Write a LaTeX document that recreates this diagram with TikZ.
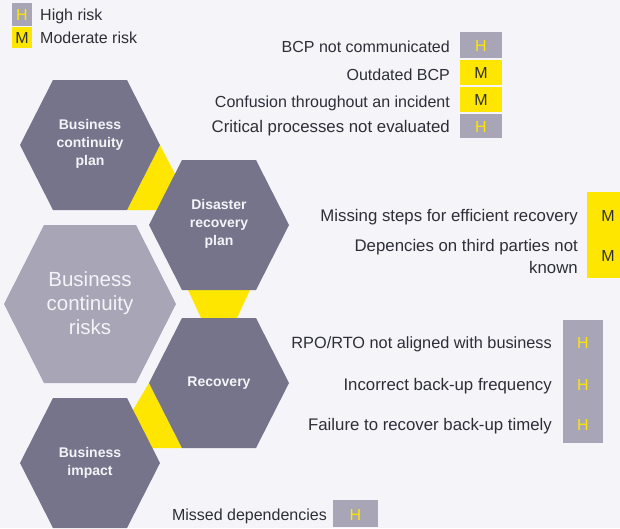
\documentclass[tikz,border=0pt]{standalone}
\usepackage{fontspec}
\setmainfont{Liberation Sans}

\definecolor{bgcol}{HTML}{F5F5F9}
\definecolor{hexdark}{HTML}{76748B}
\definecolor{hexlight}{HTML}{A7A5B6}
\definecolor{eyyellow}{HTML}{FFE600}
\definecolor{txtdark}{HTML}{2E2E38}
\definecolor{hexwhite}{HTML}{F4F4F8}

\tikzset{
	risktext/.style={anchor=base east, inner sep=0pt, text=txtdark, font=\fontsize{16}{22}\selectfont},
	widetext/.style={risktext, font=\fontsize{16.8}{22}\selectfont},
	hextext/.style={align=center, inner sep=0pt, text=hexwhite, font=\bfseries\fontsize{14}{18}\selectfont},
	hletter/.style={anchor=base, inner sep=0pt, text=eyyellow, font=\fontsize{16}{19}\selectfont},
	mletter/.style={anchor=base, inner sep=0pt, text=txtdark, font=\fontsize{16}{19}\selectfont},
}
\def\hexpath{(-70,0) -- (-37,-65) -- (37,-65) -- (70,0) -- (37,65) -- (-37,65) -- cycle}

\begin{document}
\begin{tikzpicture}[x=1pt,y=-1pt]
	\fill[bgcol] (0,0) rectangle (620,528);
	\useasboundingbox (0,0) rectangle (620,528);

	% legend
	\fill[hexlight] (12,3) rectangle (32,26);
	\fill[eyyellow] (12,27) rectangle (32,48);
	\node[hletter] (legH) at (22,20.5) {H};
	\node[mletter] (legM) at (22,43) {M};
	\node[risktext, anchor=base west] (legHtxt) at (40,20.5) {High risk};
	\node[risktext, anchor=base west] (legMtxt) at (40,43) {Moderate risk};

	% yellow
	\fill[eyyellow] (160,145) -- (176,176) -- (157,210) -- (127,210) -- cycle;
	\fill[eyyellow] (188,290) -- (250,290) -- (237,318) -- (201,318) -- cycle;
	\fill[eyyellow] (149,383) -- (133,410) -- (152,448) -- (182,448) -- cycle;

	% hexagons
	\fill[hexdark, shift={(90,145)}] \hexpath;
	\fill[hexdark, shift={(219,225)}] \hexpath;
	\fill[hexdark, shift={(219,383)}] \hexpath;
	\fill[hexdark, shift={(90,463)}] \hexpath;
	\fill[hexlight] (4,304) -- (44,225) -- (136,225) -- (176,304) -- (136,383) -- (44,383) -- cycle;

	% label
	\node[hextext] (bcp) at (90,144) {Business\\continuity\\plan};
	\node[hextext] (drp) at (219,224) {Disaster\\recovery\\plan};
	\node[hextext] (rec) at (219,383) {Recovery};
	\node[hextext] (bia) at (90,463) {Business\\impact};
	\node[hextext, font=\fontsize{20.5}{24}\selectfont] (bcr) at (90,303) {Business\\continuity\\risks};

	% BCP
	\node[risktext] (bcp1) at (450,52) {BCP not communicated};
	\node[risktext] (bcp2) at (450,80) {Outdated BCP};
	\node[risktext] (bcp3) at (450,107.5) {Confusion throughout an incident};
	\node[widetext] (bcp4) at (450,132) {Critical processes not evaluated};
	\fill[hexlight] (460,32) rectangle (502,58);
	\fill[eyyellow] (460,60) rectangle (502,85);
	\fill[eyyellow] (460,87) rectangle (502,112);
	\fill[hexlight] (460,114) rectangle (502,138);
	\node[hletter] (bcp1r) at (481,51) {H};
	\node[mletter] (bcp2r) at (481,78.5) {M};
	\node[mletter] (bcp3r) at (481,105.5) {M};
	\node[hletter] (bcp4r) at (481,132) {H};

	% DRP
	\node[widetext] (drp1) at (578,221.5) {Missing steps for efficient recovery};
	\node[widetext, anchor=east, align=right] (drp2) at (578,256.5) {Depencies on third parties not\\known};
	\fill[eyyellow] (587,192) rectangle (620,278);
	\node[mletter] (drp1r) at (608,221.5) {M};
	\node[mletter] (drp2r) at (608,261) {M};

	% recovery
	\node[risktext, font=\fontsize{16.3}{22}\selectfont] (rec1) at (552,348.5) {RPO/RTO not aligned with business};
	\node[widetext] (rec2) at (552,390) {Incorrect back-up frequency};
	\node[widetext] (rec3) at (552,430.5) {Failure to recover back-up timely};
	\fill[hexlight] (563,320) rectangle (603,443);
	\node[hletter] (rec1r) at (583,348.5) {H};
	\node[hletter] (rec2r) at (583,390) {H};
	\node[hletter] (rec3r) at (583,430.5) {H};

	% impact
	\node[risktext] (bia1) at (327,520) {Missed dependencies};
	\fill[hexlight] (333,500) rectangle (378,527);
	\node[hletter] (bia1r) at (355.5,520) {H};
\end{tikzpicture}
\end{document}
